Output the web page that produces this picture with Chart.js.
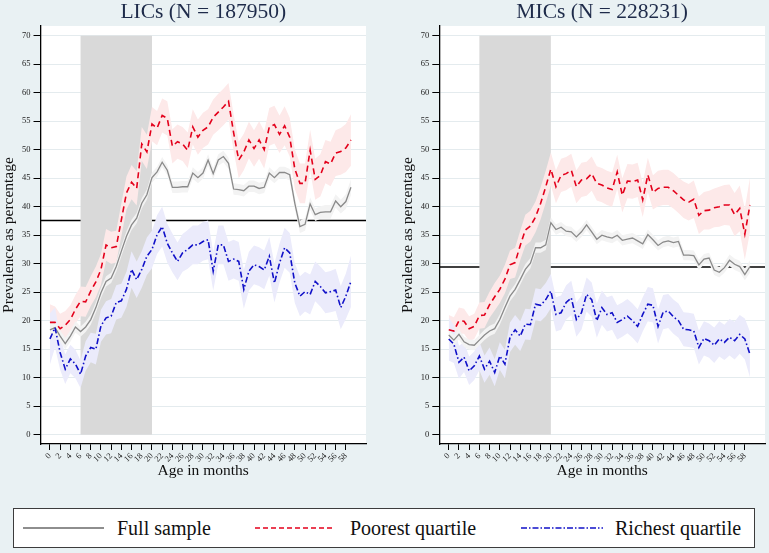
<!DOCTYPE html>
<html>
<head>
<meta charset="utf-8">
<title>Prevalence by age in months</title>
<script src="https://cdn.jsdelivr.net/npm/chart.js"></script>
<style>
  body { margin: 0; background: #e9f1f3; font-family: "Liberation Serif", serif; }
  #wrap { position: relative; width: 769px; height: 553px; overflow: hidden; }
  canvas { position: absolute; top: 0; }
  #licChart { left: 0; }
  #micChart { left: 385px; }
  #legend { position: absolute; left: 13px; top: 508px; width: 742px; height: 40px; box-sizing: border-box;
            background: #fff; border: 1.5px solid #3c3c3c; }
  #legend svg, #legend span { position: absolute; }
  #legend span { top: 7px; font-size: 20px; color: #111; line-height: 24px; white-space: nowrap; }
</style>
</head>
<body>
<div id="wrap">
  <canvas id="licChart" width="384" height="490"></canvas>
  <canvas id="micChart" width="384" height="490"></canvas>
  <div id="legend">
    <svg style="left:9px;top:13px" width="81" height="12"><line x1="0" y1="6" x2="81" y2="6" stroke="#8e8e8e" stroke-width="1.8"/></svg>
    <span style="left:103px">Full sample</span>
    <svg style="left:241px;top:13px" width="80" height="12"><line x1="0" y1="6" x2="80" y2="6" stroke="#e3001b" stroke-width="1.7" stroke-dasharray="5,3"/></svg>
    <span style="left:336px">Poorest quartile</span>
    <svg style="left:507px;top:13px" width="82" height="12"><line x1="0" y1="6" x2="82" y2="6" stroke="#1010c8" stroke-width="1.7" stroke-dasharray="6,2,1.5,2"/></svg>
    <span style="left:601px">Richest quartile</span>
  </div>
</div>
<script>
// age in months, axis ticks
const months = [0,1,2,3,4,5,6,7,8,9,10,11,12,13,14,15,16,17,18,19,20,21,22,23,24,25,26,27,28,29,
                30,31,32,33,34,35,36,37,38,39,40,41,42,43,44,45,46,47,48,49,50,51,52,53,54,55,56,57,58,59];
const xTickValues = [0,2,4,6,8,10,12,14,16,18,20,22,24,26,28,30,32,34,36,38,40,42,44,46,48,50,52,54,56,58];
const yTickValues = [0,5,10,15,20,25,30,35,40,45,50,55,60,65,70];
const shadeFrom = 6, shadeTo = 20;

// LICs
const licFull = [18.4,18.8,17.3,16.0,17.3,18.9,18.1,18.9,20.2,22.3,24.9,26.9,27.5,29.5,32.2,34.8,36.8,38.0,40.6,42.1,
                 45.1,46.1,47.8,46.4,43.4,43.4,43.5,43.5,45.9,45.1,45.9,48.2,45.8,48.2,48.8,47.6,43.1,43.0,42.8,43.6,
                 43.6,43.2,43.4,45.9,45.1,46.0,46.0,45.6,40.6,36.5,36.9,40.5,38.6,39.0,39.1,39.1,41.0,40.0,40.9,43.4];
const licPoor = [19.7,19.7,18.6,19.2,20.2,22.0,23.4,23.3,25.2,26.8,29.0,33.3,32.8,33.0,37.7,42.4,44.3,43.2,51.0,49.6,
                 54.5,53.8,56.0,55.5,50.6,51.4,51.0,49.9,54.0,52.2,53.4,54.0,55.7,56.6,57.5,58.5,53.0,48.2,49.6,51.7,
                 50.2,51.7,50.0,54.0,54.4,52.7,54.2,52.2,46.6,44.1,44.1,49.9,44.8,45.5,47.9,47.5,49.4,49.7,50.3,51.7];
const licRich = [16.8,18.8,14.4,11.5,13.3,12.4,10.6,13.8,15.3,15.0,19.1,20.5,20.8,23.2,23.5,25.5,29.0,27.2,29.0,31.3,
                 32.5,35.1,36.5,33.6,31.9,30.4,31.9,32.5,33.3,33.3,33.9,34.2,28.7,33.3,33.3,30.4,30.8,30.4,25.5,28.7,
                 29.8,29.5,28.9,31.3,26.6,30.1,32.8,31.9,26.6,24.3,25.1,24.6,26.9,26.0,24.9,25.1,25.4,22.3,24.3,26.9];
const licFullCI = [1.2,1.1,1.0,1.0,1.0,1.0,0.9,0.9,0.9,0.9,0.9,0.9,0.9,0.9,0.9,0.9,0.9,0.9,0.9,0.9,
                   0.9,0.9,0.9,0.9,1.0,1.0,1.0,1.0,1.0,1.0,1.0,1.0,1.0,1.0,1.0,1.0,1.0,1.0,1.0,1.0,
                   1.0,1.0,1.0,1.0,1.0,1.0,1.0,1.0,1.1,1.1,1.1,1.1,1.1,1.1,1.2,1.2,1.2,1.2,1.3,1.4];
const licPoorCI = [3.2,2.8,2.6,2.5,2.5,2.5,2.6,2.6,2.6,2.7,2.7,2.8,2.8,2.8,2.9,2.9,3.0,3.0,3.0,3.0,
                   3.0,3.0,3.0,3.0,3.0,3.0,3.0,3.1,3.1,3.1,3.1,3.1,3.1,3.2,3.2,3.2,3.2,3.2,3.2,3.2,
                   3.2,3.3,3.3,3.3,3.3,3.3,3.4,3.4,3.5,3.5,3.5,3.6,3.6,3.7,3.8,3.9,4.0,4.1,4.2,4.5];
const licRichCI = [4.5,3.5,3.0,2.6,2.5,2.5,2.4,2.6,2.6,2.7,2.8,2.9,3.0,3.0,3.0,3.1,3.2,3.2,3.2,3.3,
                   3.3,3.4,3.5,3.4,3.4,3.3,3.3,3.4,3.4,3.4,3.4,3.4,3.4,3.4,3.4,3.4,3.4,3.4,3.4,3.4,
                   3.4,3.4,3.4,3.4,3.4,3.4,3.5,3.5,3.5,3.5,3.5,3.5,3.5,3.5,3.6,3.6,3.7,3.8,4.0,4.5];
const licMean = 37.6;

// MICs
const micFull = [17.5,16.6,17.6,16.3,15.8,15.7,16.6,17.5,18.2,18.6,20.2,22.3,24.3,25.5,27.2,29.0,30.1,32.8,32.8,33.3,
                 37.2,36.0,36.4,35.7,35.6,34.7,35.6,36.8,35.6,34.3,35.0,34.7,34.5,35.0,34.1,34.3,34.5,34.0,33.5,35.1,
                 34.2,33.2,33.8,34.0,33.7,33.9,31.5,31.5,31.4,29.8,30.8,31.0,28.9,28.5,29.3,30.6,29.9,29.5,28.1,29.5];
const micPoor = [18.4,18.2,20.0,19.9,18.6,19.0,20.9,21.0,22.8,24.2,25.5,27.3,29.8,30.2,33.2,35.9,36.6,38.2,40.6,43.5,
                 46.6,43.5,45.5,45.8,46.4,43.5,44.7,44.9,45.8,44.1,43.8,43.3,43.0,46.1,42.0,44.5,44.4,44.7,41.2,45.6,
                 42.5,43.2,43.4,43.4,42.8,42.0,41.2,40.8,41.3,38.5,39.3,39.4,39.8,40.0,40.3,40.3,38.6,39.7,35.2,40.3];
const micRich = [16.8,15.9,12.7,13.6,11.2,12.1,13.8,11.5,12.9,10.9,13.8,12.4,17.1,18.4,17.3,19.4,19.3,22.9,22.7,23.7,
                 25.2,21.1,21.4,23.2,24.0,20.2,21.4,24.6,23.7,20.0,22.3,21.1,21.4,19.7,20.2,20.8,20.0,19.0,21.1,22.9,
                 22.7,19.0,21.5,21.7,20.7,20.0,18.5,18.4,18.2,15.3,16.9,16.5,15.7,16.8,16.2,17.1,16.5,17.6,16.8,14.1];
const micFullCI = [1.0,0.9,0.9,0.9,0.9,0.9,0.9,0.9,0.9,0.9,0.9,0.9,0.9,0.9,0.9,0.9,0.9,0.9,0.9,0.9,
                   0.9,0.9,0.9,0.9,0.9,0.9,0.9,0.9,0.9,0.9,0.9,0.9,0.9,0.9,0.9,0.9,0.9,0.9,0.9,0.9,
                   0.9,0.9,0.9,0.9,0.9,0.9,0.9,0.9,0.9,0.9,0.9,0.9,0.9,0.9,0.9,1.0,1.0,1.0,1.0,1.1];
const micPoorCI = [2.6,2.4,2.3,2.2,2.2,2.2,2.3,2.3,2.3,2.4,2.4,2.5,2.5,2.6,2.6,2.7,2.7,2.7,2.8,2.8,
                   2.9,2.9,2.9,2.9,2.9,2.9,3.0,3.0,3.0,3.0,3.0,3.0,3.0,3.0,3.0,3.0,3.0,3.0,3.0,3.0,
                   3.0,3.1,3.1,3.1,3.1,3.1,3.2,3.2,3.3,3.3,3.3,3.4,3.4,3.5,3.5,3.6,3.8,4.0,4.5,4.8];
const micRichCI = [3.8,3.3,2.9,2.6,2.5,2.5,2.5,2.4,2.4,2.4,2.4,2.5,2.6,2.6,2.6,2.7,2.7,2.8,2.8,2.9,
                   3.0,3.0,3.0,3.0,3.0,3.0,3.0,3.0,3.0,3.0,3.0,3.0,3.0,3.0,3.0,3.0,3.0,3.0,3.0,3.0,
                   3.0,3.0,3.0,3.0,3.0,3.0,3.0,3.0,3.0,3.0,3.0,3.0,3.1,3.1,3.1,3.2,3.3,3.4,3.6,4.0];
const micMean = 29.4;

const serif = '"Liberation Serif", "Times New Roman", serif';

function pts(vals, ci, sign) {
    return months.map((m, i) => ({ x: m, y: ci ? vals[i] + sign * ci[i] : vals[i] }));
}

function band(vals, ci, color, order) {
    return [
        { data: pts(vals, ci, 1), borderWidth: 0, pointRadius: 0, fill: '+1', backgroundColor: color, order: order },
        { data: pts(vals, ci, -1), borderWidth: 0, pointRadius: 0, fill: false, order: order }
    ];
}

// white plot area, reference line, shaded window, panel title
const panelPlugin = {
    id: 'panel',
    beforeDraw(chart) {
        const a = chart.chartArea, ctx = chart.ctx;
        ctx.save();
        ctx.fillStyle = '#ffffff';
        ctx.fillRect(a.left, a.top, a.right - a.left, a.bottom - a.top);
        ctx.restore();
    },
    beforeDatasetsDraw(chart) {
        const a = chart.chartArea, ctx = chart.ctx;
        const xs = chart.scales.x, ys = chart.scales.y;
        const opts = chart.options.plugins.panel;
        ctx.save();
        const ym = ys.getPixelForValue(opts.mean);
        ctx.strokeStyle = '#000';
        ctx.lineWidth = 1.5;
        ctx.beginPath();
        ctx.moveTo(a.left, ym);
        ctx.lineTo(a.right, ym);
        ctx.stroke();
        const x0 = xs.getPixelForValue(shadeFrom), x1 = xs.getPixelForValue(shadeTo);
        const yt = ys.getPixelForValue(70), yb = ys.getPixelForValue(0);
        ctx.fillStyle = '#d9d9d9';
        ctx.fillRect(x0, yt, x1 - x0, yb - yt);
        ctx.restore();
    },
    afterDraw(chart) {
        const a = chart.chartArea, ctx = chart.ctx;
        ctx.save();
        ctx.font = '21.5px ' + serif;
        ctx.fillStyle = '#1e2b4a';
        ctx.textAlign = 'center';
        ctx.textBaseline = 'middle';
        ctx.fillText(chart.options.plugins.panel.title, (a.left + a.right) / 2, 12.5);
        ctx.restore();
    }
};

function makeChart(id, title, full, fullCI, poor, poorCI, rich, richCI, mean, padLeft, padRight, yWidth) {
    const datasets = [
        { label: 'Richest quartile', data: pts(rich), borderColor: '#1010c8', borderWidth: 1.6,
          borderDash: [6, 2.5, 1.5, 2.5], pointRadius: 0, fill: false, order: 1 },
        { label: 'Poorest quartile', data: pts(poor), borderColor: '#e3001b', borderWidth: 1.6,
          borderDash: [6, 4], pointRadius: 0, fill: false, order: 2 },
        { label: 'Full sample', data: pts(full), borderColor: '#8a8a8a', borderWidth: 1.3,
          pointRadius: 0, fill: false, order: 3 }
    ].concat(band(poor, poorCI, '#fde9e9', 6), band(rich, richCI, '#ebebfb', 5), band(full, fullCI, '#f3f3f3', 4));

    return new Chart(document.getElementById(id), {
        type: 'line',
        data: { datasets: datasets },
        options: {
            responsive: false,
            animation: false,
            events: [],
            elements: { line: { tension: 0 } },
            layout: { padding: { left: padLeft, right: padRight, top: 26, bottom: 9.6 } },
            plugins: {
                legend: { display: false },
                tooltip: { enabled: false },
                title: { display: false },
                panel: { title: title, mean: mean }
            },
            scales: {
                x: {
                    type: 'linear', min: -1.85, max: 61.95,
                    afterBuildTicks: s => { s.ticks = xTickValues.map(v => ({ value: v })); },
                    afterFit: s => { s.height = 36.4; },
                    ticks: { minRotation: 45, maxRotation: 45, autoSkip: false, padding: 1,
                             font: { family: serif, size: 8.5 }, color: '#222' },
                    grid: { drawOnChartArea: false, tickLength: 6, tickColor: '#000' },
                    border: { color: '#000', width: 1.3 },
                    title: { display: true, text: 'Age in months', padding: 0,
                             font: { family: serif, size: 15.5 }, color: '#111' }
                },
                y: {
                    type: 'linear', min: -1.63, max: 71.7,
                    afterBuildTicks: s => { s.ticks = yTickValues.map(v => ({ value: v })); },
                    afterFit: s => { s.width = yWidth; },
                    ticks: { padding: 3, font: { family: serif, size: 8.5 }, color: '#222' },
                    grid: { color: '#e4ebee', tickLength: 7, tickColor: '#000' },
                    border: { color: '#000', width: 1.3 },
                    title: { display: true, text: 'Prevalence as percentage', padding: 0,
                             font: { family: serif, size: 15.5 }, color: '#111' }
                }
            }
        },
        plugins: [panelPlugin]
    });
}

makeChart('licChart', 'LICs (N = 187950)', licFull, licFullCI, licPoor, licPoorCI, licRich, licRichCI,
          licMean, 0, 18, 40.5);
makeChart('micChart', 'MICs (N = 228231)', micFull, micFullCI, micPoor, micPoorCI, micRich, micRichCI,
          micMean, 14, 4, 40.3);
</script>
</body>
</html>
